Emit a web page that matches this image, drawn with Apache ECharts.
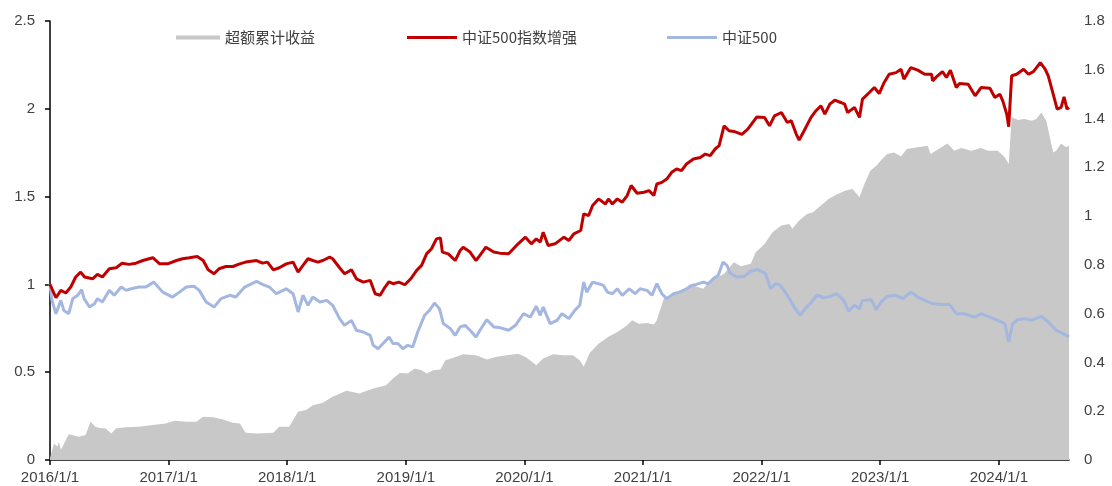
<!DOCTYPE html>
<html>
<head>
<meta charset="utf-8">
<script src="https://cdn.jsdelivr.net/npm/echarts@6/dist/echarts.min.js"></script>
<style>
  html, body { margin: 0; padding: 0; background: #fff; }
  #main { width: 1112px; height: 486px; }
</style>
</head>
<body>
<div id="main"></div>
<script>
// x values are months since 2016/1/1
var yearTicks = [0, 12, 24, 36, 48, 60, 72, 84, 96];
var yearLabels = ['2016/1/1', '2017/1/1', '2018/1/1', '2019/1/1', '2020/1/1', '2021/1/1', '2022/1/1', '2023/1/1', '2024/1/1'];

var enhMonths = [0,0.6,1.1,1.6,2.1,2.6,3.1,3.5,4.3,4.8,5.3,6.0,6.7,7.3,8.0,8.7,9.4,10.4,11.1,11.9,12.8,13.4,14.1,14.9,15.5,16.0,16.6,17.1,17.8,18.5,19.2,19.8,20.9,21.5,22.0,22.6,23.2,23.9,24.6,25.1,25.6,26.1,26.6,27.1,27.6,28.3,28.6,29.3,29.8,30.5,31.0,31.7,32.4,32.9,33.4,33.9,34.3,34.7,35.3,35.9,36.5,37.1,37.6,38.1,38.6,39.1,39.5,39.7,40.3,41.0,41.5,41.8,42.5,43.1,43.5,44.1,44.9,45.5,46.4,47.2,48.1,48.7,49.2,49.6,49.9,50.4,51.1,52.0,52.5,53.0,53.7,54.0,54.5,54.9,55.5,55.7,56.2,56.5,56.9,57.4,57.9,58.4,58.8,59.4,60.1,60.6,61.1,61.4,61.9,62.4,62.9,63.4,63.9,64.4,65.1,65.8,66.3,66.8,67.3,67.7,68.2,68.7,69.2,70.0,70.6,71.5,72.3,72.8,73.3,74.0,74.6,75.0,75.5,75.8,76.3,77.0,77.5,78.0,78.4,78.9,79.4,80.0,80.4,80.7,81.4,81.9,82.2,82.9,83.4,83.9,84.4,84.9,85.6,86.1,86.4,87.1,87.8,88.5,89.2,89.3,89.8,90.3,90.7,91.1,91.7,92.0,92.9,93.6,94.2,95.1,95.6,96.1,96.4,96.8,97.0,97.3,97.8,98.5,99.0,99.5,100.2,100.7,101.0,101.5,101.9,102.3,102.6,102.9,103.1];
var enhValues = [1.000,0.924,0.966,0.951,0.985,1.042,1.070,1.042,1.032,1.057,1.042,1.089,1.095,1.121,1.114,1.121,1.136,1.152,1.117,1.117,1.136,1.146,1.152,1.159,1.136,1.083,1.061,1.089,1.102,1.102,1.117,1.127,1.136,1.121,1.127,1.083,1.095,1.117,1.127,1.070,1.108,1.146,1.136,1.127,1.136,1.155,1.146,1.095,1.061,1.083,1.032,1.013,1.023,0.947,0.938,0.985,1.015,1.004,1.013,0.998,1.032,1.080,1.108,1.174,1.203,1.259,1.265,1.184,1.174,1.136,1.193,1.212,1.184,1.136,1.165,1.212,1.184,1.178,1.174,1.222,1.269,1.231,1.259,1.241,1.297,1.222,1.231,1.269,1.250,1.288,1.307,1.402,1.392,1.449,1.487,1.496,1.458,1.487,1.458,1.487,1.468,1.506,1.563,1.519,1.525,1.534,1.506,1.572,1.581,1.600,1.638,1.657,1.648,1.686,1.714,1.723,1.742,1.733,1.771,1.790,1.903,1.875,1.871,1.854,1.884,1.953,1.951,1.903,1.960,1.979,1.922,1.932,1.856,1.822,1.875,1.951,1.989,2.017,1.970,2.027,2.049,2.036,2.027,1.979,2.008,1.951,2.055,2.093,2.121,2.087,2.150,2.197,2.206,2.225,2.169,2.235,2.220,2.197,2.197,2.159,2.188,2.212,2.178,2.220,2.121,2.144,2.140,2.074,2.121,2.117,2.064,2.083,2.045,1.970,1.898,2.188,2.197,2.225,2.197,2.212,2.263,2.225,2.188,2.083,1.998,2.008,2.068,1.998,2.008];

var csiMonths = [0,0.2,0.6,1.1,1.4,1.9,2.3,2.8,3.2,3.45,4.0,4.5,4.8,5.3,6.0,6.5,7.2,7.7,8.2,9.0,9.7,10.5,11.4,12.4,13.1,13.8,14.6,15.1,15.8,16.6,17.3,18.2,18.8,19.7,20.9,21.5,22.2,22.9,23.9,24.6,25.1,25.6,26.1,26.6,27.3,28.0,28.6,29.3,29.8,30.5,31.0,31.7,32.4,32.7,33.2,33.7,34.3,34.7,35.2,35.7,36.2,36.7,37.2,37.9,38.4,38.9,39.4,39.8,40.5,41.0,41.5,42.0,42.5,43.1,43.5,44.2,44.9,45.5,46.4,47.1,47.9,48.6,49.2,49.6,49.9,50.6,51.3,51.8,52.5,53.1,53.6,54.0,54.3,54.9,55.5,56.0,56.4,56.9,57.4,57.9,58.6,59.2,59.7,60.4,60.9,61.4,61.9,62.4,63.1,63.7,64.4,64.9,65.4,66.1,66.6,67.1,67.6,68.1,68.5,68.8,69.5,70.2,70.9,71.6,72.4,72.9,73.4,73.9,74.6,75.3,75.9,76.4,76.9,77.6,78.3,78.9,79.6,80.3,80.8,81.4,81.9,82.2,83.1,83.6,84.1,84.7,85.6,86.3,87.1,87.8,88.5,89.3,90.2,91.0,91.7,92.5,93.6,94.2,95.1,95.9,96.6,97.0,97.4,97.9,98.6,99.3,100.3,101.0,101.8,102.5,103.1];
var csiValues = [1.000,0.909,0.833,0.909,0.852,0.833,0.919,0.938,0.970,0.919,0.871,0.890,0.919,0.900,0.966,0.938,0.985,0.966,0.975,0.985,0.985,1.013,0.956,0.928,0.956,0.985,0.989,0.966,0.900,0.871,0.919,0.938,0.928,0.985,1.017,1.000,0.985,0.947,0.975,0.947,0.843,0.938,0.881,0.928,0.900,0.909,0.881,0.805,0.767,0.795,0.739,0.729,0.710,0.653,0.634,0.663,0.701,0.663,0.663,0.634,0.653,0.644,0.729,0.824,0.852,0.894,0.862,0.777,0.748,0.710,0.758,0.767,0.739,0.701,0.739,0.799,0.758,0.754,0.739,0.767,0.833,0.814,0.875,0.824,0.871,0.777,0.795,0.833,0.805,0.852,0.881,1.013,0.956,1.013,1.004,0.994,0.956,0.947,0.975,0.938,0.975,0.947,0.975,0.966,0.938,1.004,0.947,0.919,0.947,0.956,0.975,0.994,1.000,1.013,1.004,1.032,1.051,1.127,1.108,1.064,1.042,1.045,1.075,1.085,1.061,0.975,1.004,0.994,0.938,0.871,0.824,0.862,0.890,0.938,0.924,0.932,0.947,0.909,0.848,0.881,0.862,0.909,0.913,0.856,0.900,0.932,0.938,0.919,0.956,0.928,0.909,0.890,0.886,0.886,0.833,0.833,0.814,0.833,0.814,0.795,0.777,0.672,0.777,0.799,0.805,0.795,0.818,0.786,0.739,0.720,0.701];

var excessMonths = [0,0.4,0.75,0.9,1.1,1.9,2.9,3.6,4.1,4.6,5.1,5.6,6.2,6.7,7.7,9.0,10.4,11.7,12.6,13.8,14.8,15.5,16.5,17.5,18.5,19.2,19.8,20.9,22.6,23.2,24.2,25.1,25.9,26.6,27.6,28.6,30.0,31.3,32.7,34.0,34.7,35.4,35.6,36.2,36.9,37.6,38.1,38.8,39.5,40.0,40.6,41.8,43.1,44.2,45.2,46.2,47.4,48.2,49.2,49.9,50.9,51.9,52.9,53.6,54.0,54.6,55.5,56.5,57.4,58.4,58.9,59.6,60.4,61.1,61.4,62.1,63.1,64.1,65.1,66.1,66.8,67.6,68.2,69.2,69.9,70.9,71.4,72.3,73.1,74.0,74.8,75.1,75.8,76.6,77.2,78.0,78.8,79.7,80.5,81.2,81.9,82.4,83.0,83.6,84.2,84.7,85.4,86.1,86.7,87.8,88.8,89.1,90.2,90.8,91.5,92.2,93.2,94.2,94.9,95.9,96.6,97.0,97.3,97.95,98.6,99.3,99.8,100.3,100.8,101.5,101.8,102.3,102.8,103.1];
var excessValues = [0.007,0.068,0.055,0.075,0.041,0.106,0.095,0.102,0.157,0.136,0.130,0.130,0.109,0.130,0.134,0.136,0.143,0.150,0.161,0.157,0.157,0.177,0.175,0.166,0.153,0.150,0.112,0.109,0.112,0.136,0.136,0.198,0.205,0.225,0.235,0.259,0.284,0.273,0.293,0.307,0.334,0.357,0.361,0.355,0.375,0.368,0.355,0.368,0.371,0.409,0.416,0.434,0.430,0.412,0.423,0.430,0.436,0.420,0.389,0.416,0.434,0.430,0.430,0.409,0.382,0.439,0.477,0.505,0.525,0.552,0.573,0.559,0.562,0.556,0.573,0.661,0.682,0.698,0.716,0.702,0.736,0.750,0.764,0.811,0.794,0.805,0.852,0.886,0.934,0.961,0.968,0.948,0.982,1.009,1.016,1.043,1.071,1.091,1.105,1.111,1.077,1.132,1.186,1.207,1.234,1.255,1.261,1.244,1.275,1.282,1.289,1.255,1.282,1.298,1.268,1.279,1.268,1.279,1.268,1.268,1.241,1.214,1.405,1.394,1.398,1.391,1.398,1.425,1.391,1.261,1.268,1.298,1.282,1.289];

function pairs(xs, ys) {
  return xs.map(function (x, i) { return [x, ys[i]]; });
}

var myChart = echarts.init(document.getElementById('main'));
var labelFont = { color: '#404040', fontFamily: 'Liberation Sans', fontSize: 15 };
var legendText = { color: '#404040', fontFamily: 'Noto Sans CJK SC', fontSize: 15 };

var option = {
  animation: false,
  grid: { left: 50, right: 43, top: 21, bottom: 26 },
  legend: [
    { left: 171, top: 25, icon: 'rect', itemWidth: 44, itemHeight: 4, textStyle: legendText, data: ['超额累计收益'] },
    { left: 402, top: 25, icon: 'rect', itemWidth: 50, itemHeight: 3, textStyle: legendText, data: ['中证500指数增强'] },
    { left: 662, top: 25, icon: 'rect', itemWidth: 50, itemHeight: 3, textStyle: legendText, data: ['中证500'] }
  ],
  xAxis: {
    type: 'value',
    min: 0,
    max: 103.1,
    axisLine: { lineStyle: { color: '#000', width: 1.5 } },
    axisTick: { length: 5, lineStyle: { color: '#000', width: 1.5 }, customValues: yearTicks },
    axisLabel: Object.assign({
      margin: 10,
      customValues: yearTicks,
      formatter: function (v) { return yearLabels[Math.round(v / 12)] || ''; }
    }, labelFont),
    splitLine: { show: false }
  },
  yAxis: [
    {
      type: 'value', min: 0, max: 2.5, interval: 0.5,
      axisLine: { show: true, lineStyle: { color: '#000', width: 1.5 } },
      axisTick: { show: true, length: 5, lineStyle: { color: '#000', width: 1.5 } },
      axisLabel: Object.assign({ margin: 15 }, labelFont),
      splitLine: { show: false }
    },
    {
      type: 'value', min: 0, max: 1.8, interval: 0.2,
      axisLine: { show: false },
      axisTick: { show: false },
      axisLabel: Object.assign({ margin: 15 }, labelFont),
      splitLine: { show: false }
    }
  ],
  series: [
    {
      name: '超额累计收益', type: 'line', yAxisIndex: 1,
      data: pairs(excessMonths, excessValues),
      showSymbol: false, symbol: 'none',
      itemStyle: { color: '#C8C8C8' },
      lineStyle: { width: 0, color: '#C8C8C8' },
      areaStyle: { color: '#C8C8C8', opacity: 1 },
      z: 1
    },
    {
      name: '中证500指数增强', type: 'line', yAxisIndex: 0,
      data: pairs(enhMonths, enhValues),
      showSymbol: false, symbol: 'none',
      itemStyle: { color: '#C00000' },
      lineStyle: { width: 3, color: '#C00000' },
      z: 3
    },
    {
      name: '中证500', type: 'line', yAxisIndex: 0,
      data: pairs(csiMonths, csiValues),
      showSymbol: false, symbol: 'none',
      itemStyle: { color: '#A4B7E0' },
      lineStyle: { width: 3, color: '#A4B7E0' },
      z: 2
    }
  ]
};
myChart.setOption(option);
</script>
</body>
</html>
